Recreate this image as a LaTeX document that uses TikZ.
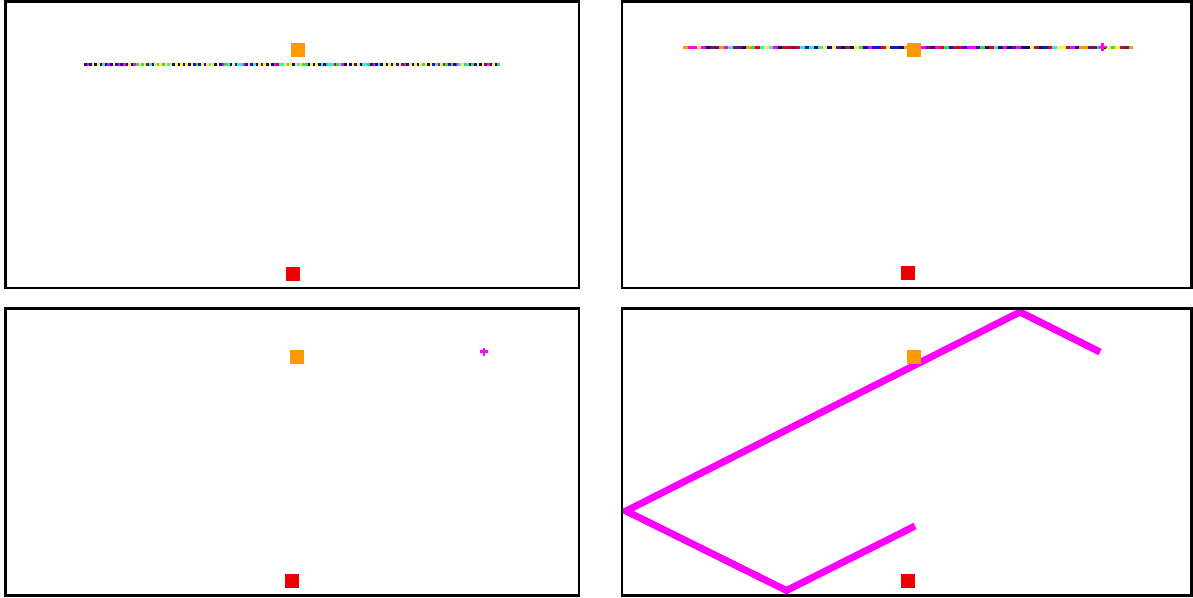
\documentclass[tikz,border=0pt]{standalone}
\definecolor{navyc}{RGB}{20,10,120}
\definecolor{orangec}{RGB}{255,153,0}
\definecolor{redc}{RGB}{238,0,0}
\definecolor{magc}{RGB}{255,0,255}
\definecolor{yelc}{RGB}{255,245,60}
\definecolor{cyanc}{RGB}{60,230,230}
\definecolor{greenc}{RGB}{60,220,60}
\definecolor{purplec}{RGB}{110,20,110}
\definecolor{darkredc}{RGB}{170,30,30}
\definecolor{bluec}{RGB}{20,20,220}
\begin{document}
\begin{tikzpicture}[x=1pt,y=-1pt,
  panel/.style={draw=black,line width=2.6pt},
  sqbox/.style={minimum size=14pt,inner sep=0pt,outer sep=0pt,draw=none},
  plusmark/.style={magc,line width=2.6pt},
  track/.style={magc,line width=7pt,line join=miter}]
\useasboundingbox (0,0) rectangle (1193,597);
\pgfmathdeclarerandomlist{darkc}{{navyc}{navyc}{navyc}{navyc}{navyc}{navyc}{purplec}{cyanc}{darkredc}{greenc}{bluec}}
\pgfmathdeclarerandomlist{lightc}{{yelc}{yelc}{yelc}{yelc}{yelc}{cyanc}{magc}{greenc}}
\pgfmathdeclarerandomlist{mixc}{{redc}{cyanc}{greenc}{magc}{navyc}{yelc}{orangec}{bluec}{purplec}{navyc}{darkredc}}
\pgfmathsetseed{7}
% panel 1 line
\foreach \i in {0,...,159} {
  \pgfmathsetmacro\xa{84+\i*2.6}
  \ifodd\i \pgfmathrandomitem{\cc}{lightc}\else\pgfmathrandomitem{\cc}{darkc}\fi
  \draw[line width=3pt,\cc] (\xa,64) -- ++(2.6,0);
}
% panel 2 line
\foreach \i in {0,...,99} {
  \pgfmathsetmacro\xa{683+\i*4.5}
  \pgfmathrandomitem{\cc}{mixc}
  \draw[line width=3pt,\cc] (\xa,47) -- ++(4.5,0);
}
% panel 4 polyline
\coordinate (t1) at (915,526);
\coordinate (t2) at (786.5,590.5);
\coordinate (t3) at (626,511);
\coordinate (t4) at (1020,312);
\coordinate (t5) at (1100,352);
\begin{scope}
\clip (621,307) rectangle (1192,596);
\draw[track] (t1) -- (t2) -- (t3) -- (t4) -- (t5);
\end{scope}
% markers
\node[sqbox,fill=orangec] (o1) at (298,49.7) {};
\node[sqbox,fill=redc] (r1) at (293,274) {};
\node[sqbox,fill=orangec] (o2) at (914,50) {};
\node[sqbox,fill=redc] (r2) at (908,273) {};
\node[sqbox,fill=orangec] (o3) at (297,357) {};
\node[sqbox,fill=redc] (r3) at (292,581) {};
\node[sqbox,fill=orangec] (o4) at (913.7,356.7) {};
\node[sqbox,fill=redc] (r4) at (908.3,581) {};
\coordinate (p2) at (1102.5,47);
\coordinate (p3) at (484,351.5);
\draw[plusmark] ([xshift=-4pt]p2) -- ([xshift=4pt]p2) ([yshift=-4pt]p2) -- ([yshift=4pt]p2);
\draw[plusmark] ([xshift=-4pt]p3) -- ([xshift=4pt]p3) ([yshift=-4pt]p3) -- ([yshift=4pt]p3);
% panels
\draw[panel] (5.3,1.4) rectangle (579,288);
\draw[panel] (622,1.4) rectangle (1191.6,288);
\draw[panel] (5.3,308.3) rectangle (579,595.3);
\draw[panel] (622,308.3) rectangle (1191.6,595.3);
\end{tikzpicture}
\end{document}
